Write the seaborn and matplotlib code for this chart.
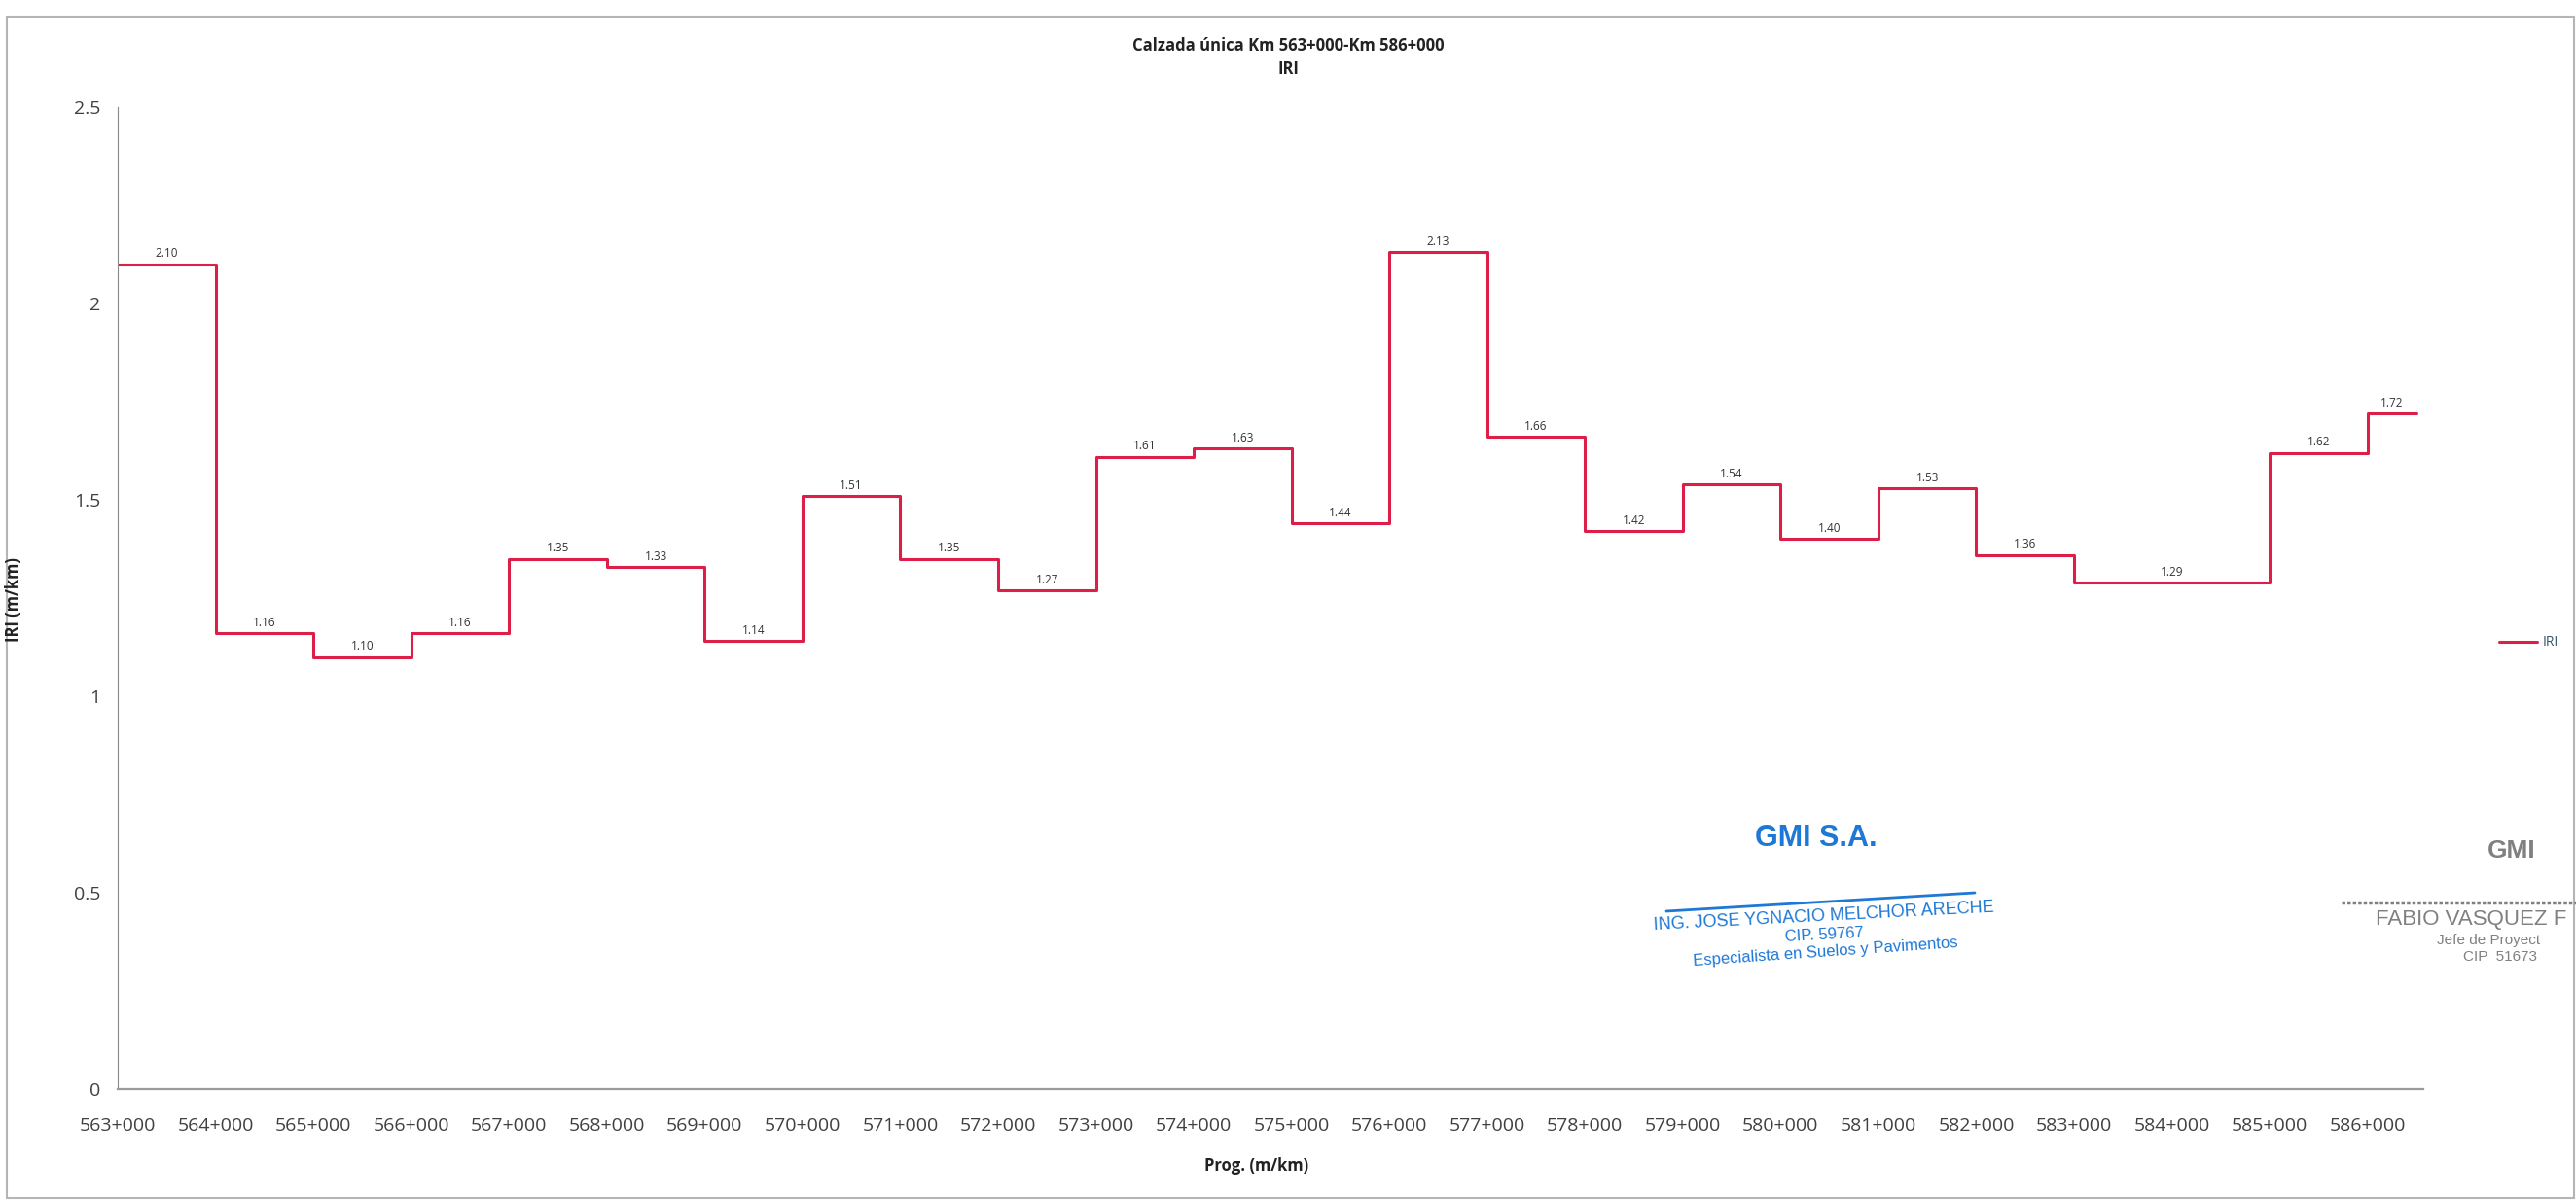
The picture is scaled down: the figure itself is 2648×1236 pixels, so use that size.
import matplotlib
matplotlib.use("Agg")
import matplotlib.pyplot as plt
import matplotlib.ticker as mticker
from matplotlib.patches import Rectangle
from matplotlib.lines import Line2D
import seaborn as sns
import pandas as pd

# IRI per section (start km of each step, value)
seg_start = [563, 564, 565, 566, 567, 568, 569, 570, 571, 572, 573, 574,
             575, 576, 577, 578, 579, 580, 581, 582, 583, 585, 586]
seg_end = [564, 565, 566, 567, 568, 569, 570, 571, 572, 573, 574, 575,
           576, 577, 578, 579, 580, 581, 582, 583, 585, 586, 586.5]
iri = [2.10, 1.16, 1.10, 1.16, 1.35, 1.33, 1.14, 1.51, 1.35, 1.27, 1.61, 1.63,
       1.44, 2.13, 1.66, 1.42, 1.54, 1.40, 1.53, 1.36, 1.29, 1.62, 1.72]
km_ticks = list(range(563, 587))
tick_labels = [f"{k}+000" for k in km_ticks]

title = "Calzada única Km 563+000-Km 586+000\nIRI"

W, H = 2648, 1236
sns.set_style("white")
plt.rcParams['font.family'] = ['Open Sans', 'DejaVu Sans']

fig = plt.figure(figsize=(W / 100, H / 100), dpi=100)
ax = fig.add_axes([121 / W, 1 - 1120 / H, (2491 - 121) / W, (1120 - 110) / H])

# step line: each value held until next start, last value held to its end
df = pd.DataFrame({"km": seg_start + [seg_end[-1]], "IRI": iri + [iri[-1]]})
line_col = "#DC1E48"
sns.lineplot(data=df, x="km", y="IRI", drawstyle="steps-post", color=line_col,
             linewidth=2.2, label="IRI", ax=ax, sort=False)

# value labels centred above each step
for s, e, v in zip(seg_start, seg_end, iri):
    ax.annotate(f"{v:.2f}", xy=((s + e) / 2, v), xytext=(0, 3),
                textcoords="offset points", ha="center", va="bottom",
                fontsize=8.5, color="#333333",
                family=["Liberation Sans Narrow", "Open Sans"])

ax.set_xlim(563, 586.57)
ax.set_ylim(0, 2.5)
ax.set_xticks(km_ticks)
ax.set_xticklabels(tick_labels)
ax.set_yticks([0, 0.5, 1, 1.5, 2, 2.5])
ax.yaxis.set_major_formatter(mticker.FuncFormatter(lambda v, p: f"{v:g}"))
ax.tick_params(axis="both", labelsize=14, colors="#8a8a8a", labelcolor="#404040",
               length=7, width=1, direction="out")
ax.tick_params(axis="x", pad=14)
ax.tick_params(axis="y", pad=6)
for side in ["top", "right"]:
    ax.spines[side].set_visible(False)
ax.spines["left"].set_color("#8a8a8a")
ax.spines["bottom"].set_color("#9a9a9a")
ax.spines["bottom"].set_linewidth(1.6)

ax.set_xlabel("")
ax.set_ylabel("")
fig.text(1292 / W, 1 - 1199 / H, "Prog. (m/km)", ha="center", va="center",
         fontsize=12, fontweight="bold", color="#222222")
fig.text(14 / W, 1 - 617 / H, "IRI (m/km)", ha="center", va="center",
         rotation=90, fontsize=12, fontweight="bold", color="#222222")
fig.text(0.5, 1 - 59 / H, title, ha="center", va="center", fontsize=12,
         fontweight="bold", color="#222222", linespacing=1.45)

ax.get_legend().remove()
fig.legend(handles=[Line2D([], [], color=line_col, linewidth=2.2)], labels=["IRI"],
           loc="center left", bbox_to_anchor=(2562 / W, 1 - 661 / H),
           frameon=False, fontsize=10, handlelength=2.8, borderpad=0,
           handletextpad=0.4, labelcolor="#335566")

# outer chart frame
fig.patches.append(Rectangle((7 / W, 4 / H), 2639 / W, (1232 - 17) / H,
                             transform=fig.transFigure, fill=False,
                             edgecolor="#b5b5b5", linewidth=1.5))

# stamps
blue = "#1E78D6"
fig.text(1867 / W, 1 - 862 / H, "GMI S.A.", ha="center", va="center", fontsize=22,
         fontweight="bold", color=blue, family=["Liberation Sans", "DejaVu Sans"])
fig.add_artist(Line2D([1713 / W, 2030 / W], [1 - 937 / H, 1 - 918 / H],
                      color=blue, linewidth=2))
fig.text(1875 / W, 1 - 942 / H, "ING. JOSE YGNACIO MELCHOR ARECHE", ha="center",
         va="center", fontsize=13, rotation=3, color=blue,
         family=["Liberation Sans Narrow", "Liberation Sans"])
fig.text(1875 / W, 1 - 961 / H, "CIP. 59767", ha="center", va="center",
         fontsize=12, rotation=3, color=blue, family=["Liberation Sans", "DejaVu Sans"])
fig.text(1877 / W, 1 - 979 / H, "Especialista en Suelos y Pavimentos", ha="center",
         va="center", fontsize=12, rotation=4, color=blue,
         family=["Liberation Sans", "DejaVu Sans"])

gray = "#808080"
fig.text(2582 / W, 1 - 875 / H, "GMI", ha="center", va="center", fontsize=19,
         fontweight="bold", color=gray, family=["Liberation Sans", "DejaVu Sans"])
fig.add_artist(Line2D([2407 / W, 1.0], [1 - 928 / H, 1 - 928 / H], color=gray,
                      linewidth=2.5, linestyle=(0, (1, 0.6))))
fig.text(2442 / W, 1 - 946 / H, "FABIO VASQUEZ F", ha="left", va="center",
         fontsize=16, color=gray, family=["Liberation Sans", "DejaVu Sans"])
fig.text(2505 / W, 1 - 967 / H, "Jefe de Proyect", ha="left", va="center",
         fontsize=11, color=gray, family=["Liberation Sans", "DejaVu Sans"])
fig.text(2532 / W, 1 - 984 / H, "CIP  51673", ha="left", va="center",
         fontsize=11, color=gray, family=["Liberation Sans", "DejaVu Sans"])

fig.savefig("out.png", dpi=100)
